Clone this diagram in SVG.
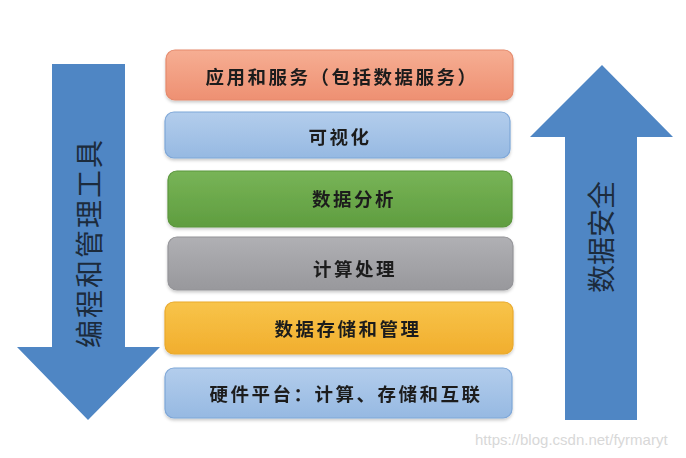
<svg xmlns="http://www.w3.org/2000/svg" width="686" height="458" viewBox="0 0 686 458">
<style>
.box{stroke-width:1.2}
.lbl{font-family:"Noto Sans CJK SC","Noto Sans",sans-serif;font-size:18.5px;font-weight:bold;fill:#1e1e1e;text-anchor:middle;dominant-baseline:central;letter-spacing:2.5px}
.arrow{fill:#4f86c4}
.vtxt{font-family:"Noto Sans CJK SC","Noto Sans",sans-serif;font-size:28px;fill:#1c2b3c;text-anchor:middle;dominant-baseline:central}
.wm{font-family:"Liberation Sans",Arial,sans-serif;font-size:15px;fill:#d8d8d8}
</style>
<defs>
<linearGradient id="gSalmon" x1="0" y1="0" x2="0" y2="1"><stop offset="0" stop-color="#f6ae93"/><stop offset="1" stop-color="#ee9072"/></linearGradient>
<linearGradient id="gBlue" x1="0" y1="0" x2="0" y2="1"><stop offset="0" stop-color="#b3cdec"/><stop offset="1" stop-color="#96b9e2"/></linearGradient>
<linearGradient id="gGreen" x1="0" y1="0" x2="0" y2="1"><stop offset="0" stop-color="#78b457"/><stop offset="1" stop-color="#5f9d3f"/></linearGradient>
<linearGradient id="gGray" x1="0" y1="0" x2="0" y2="1"><stop offset="0" stop-color="#b0b0b4"/><stop offset="1" stop-color="#98989c"/></linearGradient>
<linearGradient id="gYellow" x1="0" y1="0" x2="0" y2="1"><stop offset="0" stop-color="#f8c44a"/><stop offset="1" stop-color="#f1ae2e"/></linearGradient>
<filter id="sh" x="-5%" y="-20%" width="110%" height="150%"><feDropShadow dx="0" dy="2" stdDeviation="1.5" flood-color="#000" flood-opacity="0.2"/></filter>
</defs>
<rect width="686" height="458" fill="#ffffff"/>
<g id="arrow-left">
<polygon class="arrow" points="52,64 125,64 125,347 160,347 88,420 17,347 52,347"/>
<text class="vtxt" transform="translate(88,243) rotate(-90)" letter-spacing="2">编程和管理工具</text>
</g>
<g id="arrow-right">
<polygon class="arrow" points="602,65 673,137 637,137 637,420 565,420 565,137 530,137"/>
<text class="vtxt" transform="translate(600,237) rotate(-90)">数据安全</text>
</g>
<g id="box-app" filter="url(#sh)">
<rect class="box" x="166" y="50" width="347" height="50" rx="9" fill="url(#gSalmon)" stroke="#e58a6c"/>
<text class="lbl" x="342" y="76">应用和服务（包括数据服务）</text>
</g>
<g id="box-vis" filter="url(#sh)">
<rect class="box" x="165" y="112" width="345" height="46" rx="9" fill="url(#gBlue)" stroke="#7ea7d8"/>
<text class="lbl" x="340" y="136">可视化</text>
</g>
<g id="box-analysis" filter="url(#sh)">
<rect class="box" x="168" y="171" width="344" height="56" rx="9" fill="url(#gGreen)" stroke="#5a963c"/>
<text class="lbl" x="354" y="198">数据分析</text>
</g>
<g id="box-compute" filter="url(#sh)">
<rect class="box" x="168" y="237" width="345" height="53" rx="9" fill="url(#gGray)" stroke="#949498"/>
<text class="lbl" x="355" y="268">计算处理</text>
</g>
<g id="box-storage" filter="url(#sh)">
<rect class="box" x="165" y="302" width="348" height="52" rx="9" fill="url(#gYellow)" stroke="#e9a92c"/>
<text class="lbl" x="348" y="328">数据存储和管理</text>
</g>
<g id="box-hw" filter="url(#sh)">
<rect class="box" x="165" y="368" width="347" height="50" rx="9" fill="url(#gBlue)" stroke="#7ea7d8"/>
<text class="lbl" x="346" y="393">硬件平台：计算、存储和互联</text>
</g>
<text class="wm" x="475" y="445">https://blog.csdn.net/fyrmaryt</text>
</svg>
